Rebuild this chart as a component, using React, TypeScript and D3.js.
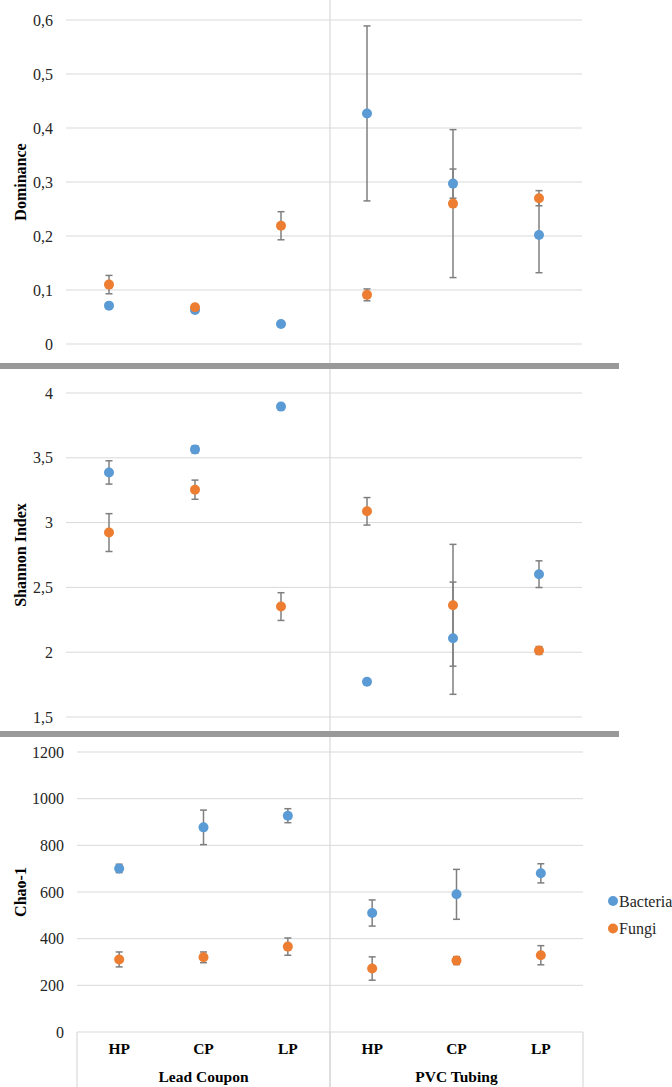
import React from "react";
import * as d3 from "d3";

const categories = ["HP", "CP", "LP", "HP", "CP", "LP"];
const groups = ["Lead Coupon", "PVC Tubing"];
const seriesNames = ["Bacteria", "Fungi"];

const dominanceTicks = [0, 0.1, 0.2, 0.3, 0.4, 0.5, 0.6];
const dominanceBacteria = [0.071, 0.063, 0.037, 0.427, 0.297, 0.202];
const dominanceBacteriaErr = [0.003, 0.003, 0.002, 0.162, 0.027, 0.07];
const dominanceFungi = [0.11, 0.068, 0.219, 0.091, 0.26, 0.27];
const dominanceFungiErr = [0.017, 0.005, 0.026, 0.011, 0.137, 0.014];

const shannonTicks = [1.5, 2, 2.5, 3, 3.5, 4];
const shannonBacteria = [3.387, 3.565, 3.895, 1.772, 2.108, 2.602];
const shannonBacteriaErr = [0.09, 0.028, 0.008, 0.008, 0.433, 0.103];
const shannonFungi = [2.923, 3.254, 2.352, 3.087, 2.362, 2.013];
const shannonFungiErr = [0.146, 0.074, 0.107, 0.106, 0.47, 0.03];

const chaoTicks = [0, 200, 400, 600, 800, 1000, 1200];
const chaoBacteria = [701, 877, 927, 510, 590, 680];
const chaoBacteriaErr = [18, 74, 30, 56, 107, 41];
const chaoFungi = [311, 320, 366, 272, 306, 329];
const chaoFungiErr = [32, 23, 37, 50, 17, 41];

const BLUE = "#5B9BD5";
const ORANGE = "#ED7D31";
const GRID = "#d9d9d9";
const ERR = "#7f7f7f";
const FONT = "'Liberation Serif', 'Times New Roman', serif";

const fmt = (v: number) => String(v).replace(".", ",");

type PanelProps = {
  title: string;
  ticks: number[];
  domain: [number, number];
  yRange: [number, number];
  xRange: [number, number];
  labelRight: number;
  titleY: number;
  bac: number[];
  bacErr: number[];
  fun: number[];
  funErr: number[];
};

function Panel(p: PanelProps) {
  const idx = categories.map((_, i) => String(i));
  const x = d3.scaleBand<string>().domain(idx).range(p.xRange);
  const y = d3.scaleLinear().domain(p.domain).range(p.yRange);
  const cx = (i: number) => (x(String(i)) as number) + x.bandwidth() / 2;
  const series = [
    { vals: p.bac, errs: p.bacErr, color: BLUE },
    { vals: p.fun, errs: p.funErr, color: ORANGE },
  ];
  return (
    <g>
      {p.ticks.map((t) => (
        <g key={t}>
          <line x1={p.xRange[0]} x2={p.xRange[1]} y1={y(t)} y2={y(t)} stroke={GRID} strokeWidth={1} />
          <text x={p.labelRight} y={y(t)} dy="0.35em" textAnchor="end" fontSize={16} fill="#262626" fontFamily={FONT}>
            {fmt(t)}
          </text>
        </g>
      ))}
      <text
        transform={`translate(20,${p.titleY}) rotate(-90)`}
        textAnchor="middle"
        dy="0.35em"
        fontSize={16}
        fontWeight="bold"
        fontFamily={FONT}
        fill="#000"
      >
        {p.title}
      </text>
      {series.map((s, si) =>
        s.vals.map((v, i) => {
          const e = s.errs[i];
          const c = cx(i);
          return (
            <g key={`e${si}-${i}`} stroke={ERR} strokeWidth={1.5}>
              <line x1={c} x2={c} y1={y(v + e)} y2={y(v - e)} />
              <line x1={c - 3.5} x2={c + 3.5} y1={y(v + e)} y2={y(v + e)} />
              <line x1={c - 3.5} x2={c + 3.5} y1={y(v - e)} y2={y(v - e)} />
            </g>
          );
        })
      )}
      {series.map((s, si) =>
        s.vals.map((v, i) => <circle key={`m${si}-${i}`} cx={cx(i)} cy={y(v)} r={5} fill={s.color} />)
      )}
    </g>
  );
}

export default function App() {
  const bottomX: [number, number] = [77, 583];
  const xb = d3.scaleBand<string>().domain(categories.map((_, i) => String(i))).range(bottomX);
  const groupX = d3.scaleBand<string>().domain(groups).range(bottomX);
  const dividers = [bottomX[0], groupX(groups[1]) as number, bottomX[1]];
  return (
    <svg width={672} height={1087} style={{ position: "absolute", left: 0, top: 0, background: "#fff" }}>
      <rect width={672} height={1087} fill="#fff" />
      <line x1={dividers[1]} x2={dividers[1]} y1={0} y2={1087} stroke={GRID} strokeWidth={1.2} />
      <Panel
        title="Dominance"
        ticks={dominanceTicks}
        domain={[0, 0.6]}
        yRange={[344, 20]}
        xRange={[66, 582]}
        labelRight={53}
        titleY={182}
        bac={dominanceBacteria}
        bacErr={dominanceBacteriaErr}
        fun={dominanceFungi}
        funErr={dominanceFungiErr}
      />
      <Panel
        title="Shannon Index"
        ticks={shannonTicks}
        domain={[1.5, 4]}
        yRange={[717, 393]}
        xRange={[66, 582]}
        labelRight={53}
        titleY={555}
        bac={shannonBacteria}
        bacErr={shannonBacteriaErr}
        fun={shannonFungi}
        funErr={shannonFungiErr}
      />
      <Panel
        title="Chao-1"
        ticks={chaoTicks}
        domain={[0, 1200]}
        yRange={[1032, 752]}
        xRange={bottomX}
        labelRight={64}
        titleY={892}
        bac={chaoBacteria}
        bacErr={chaoBacteriaErr}
        fun={chaoFungi}
        funErr={chaoFungiErr}
      />
      <rect x={0} y={363} width={619} height={6} fill="#999" />
      <rect x={0} y={731} width={619} height={6} fill="#999" />
      {dividers.map((d, i) => (
        <line key={i} x1={d} x2={d} y1={1032} y2={1087} stroke={GRID} strokeWidth={1.2} />
      ))}
      {categories.map((c, i) => (
        <text
          key={i}
          x={(xb(String(i)) as number) + xb.bandwidth() / 2}
          y={1049}
          dy="0.35em"
          textAnchor="middle"
          fontSize={15.5}
          fontWeight="bold"
          fontFamily={FONT}
        >
          {c}
        </text>
      ))}
      {groups.map((g) => (
        <text
          key={g}
          x={(groupX(g) as number) + groupX.bandwidth() / 2}
          y={1077}
          dy="0.35em"
          textAnchor="middle"
          fontSize={15.5}
          fontWeight="bold"
          fontFamily={FONT}
        >
          {g}
        </text>
      ))}
      {seriesNames.map((s, i) => (
        <g key={s}>
          <circle cx={613} cy={901 + i * 27.5} r={5} fill={i === 0 ? BLUE : ORANGE} />
          <text x={619} y={901 + i * 27.5} dy="0.35em" fontSize={16} fontFamily={FONT} fill="#262626">
            {s}
          </text>
        </g>
      ))}
    </svg>
  );
}
